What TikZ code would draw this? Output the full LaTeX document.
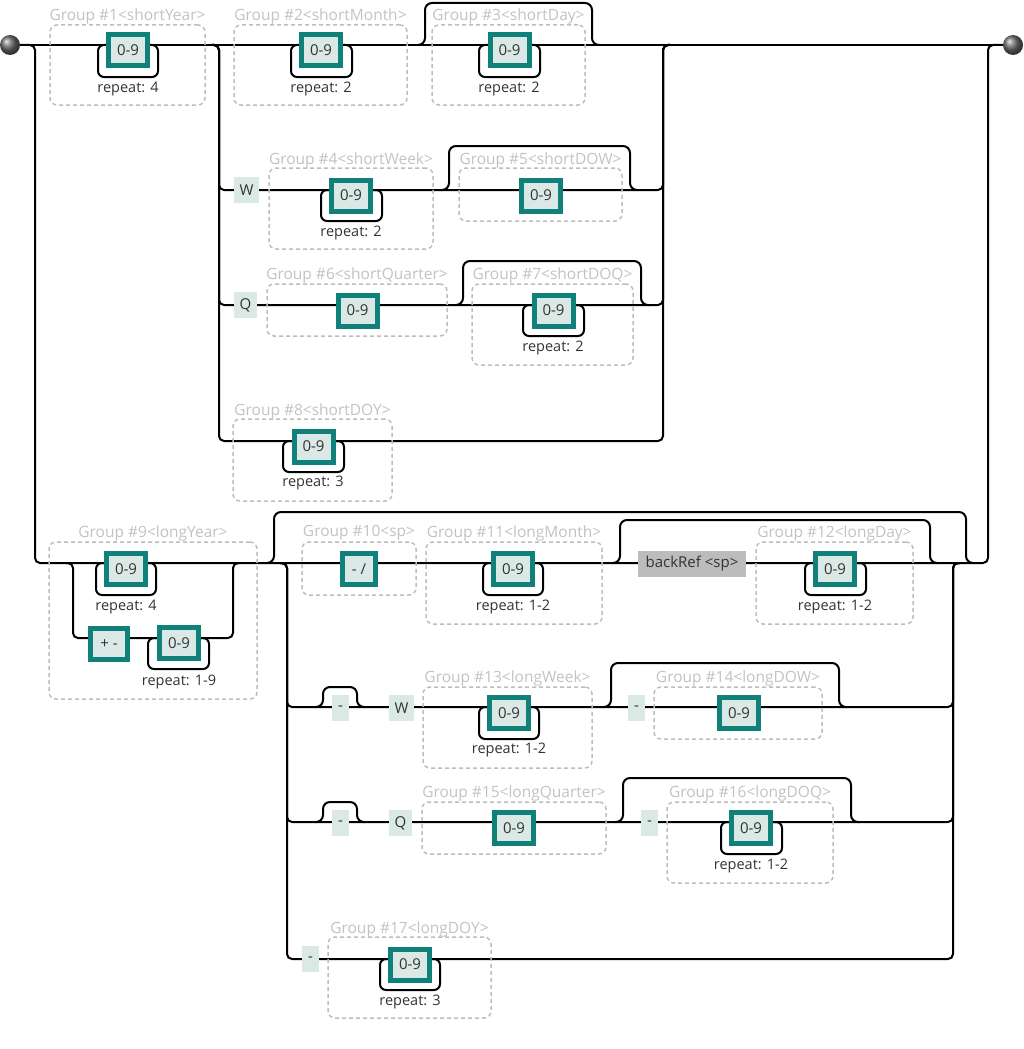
\documentclass[tikz,border=0pt]{standalone}
\usepackage{fontspec}
\setmainfont{Open Sans}
\usetikzlibrary{fit,backgrounds}
\definecolor{tealbox}{HTML}{10807A}
\definecolor{litfill}{HTML}{DAE9E5}
\definecolor{gdash}{HTML}{BDBDBD}
\definecolor{glab}{HTML}{C2C2C2}
\definecolor{txt}{HTML}{333333}
\definecolor{brfill}{HTML}{BCBCBC}
\begin{document}
\begin{tikzpicture}[x=1pt,y=-1pt,
 rail/.style={line width=2pt, black, rounded corners=5pt},
 byp/.style={line width=2pt, black, rounded corners=7pt},
 looppath/.style={line width=2pt, black, rounded corners=6pt},
 digit/.style={draw=tealbox, line width=5pt, fill=litfill, minimum width=39pt, minimum height=31pt, inner sep=0pt, text=txt, font=\fontsize{15}{17}\selectfont},
 litbox/.style={fill=litfill, minimum height=26pt, inner sep=0pt, text=txt, font=\fontsize{15}{17}\selectfont},
 refbox/.style={fill=brfill, minimum height=26pt, minimum width=108pt, inner sep=0pt, text=txt, font=\fontsize{15}{17}\selectfont},
 grp/.style={draw=gdash, line width=1.5pt, dash pattern=on 4pt off 3pt, rounded corners=7pt, inner sep=0pt},
 glabel/.style={text=glab, font=\fontsize{15.5}{17}\selectfont, inner sep=0pt},
 reptext/.style={text=txt, font=\fontsize{14.5}{17}\selectfont, inner sep=0pt},
 term/.style={circle, minimum size=20pt, inner sep=0pt, shade, ball color=gray!85!black}
]
\useasboundingbox (0,0) rectangle (1024,1049);

% terminals
\node[term] (start) at (10,45) {};
\node[term] (end) at (1013,45) {};

% group boxes
\node[grp, fit={(50,25) (205,105)}] (g1) {};
\node[grp, fit={(234,25) (407,105)}] (g2) {};
\node[grp, fit={(432,25) (585,105)}] (g3) {};
\node[grp, fit={(269,168) (433,249)}] (g4) {};
\node[grp, fit={(459,168) (622,221)}] (g5) {};
\node[grp, fit={(267,284) (447,336)}] (g6) {};
\node[grp, fit={(472,284) (633,365)}] (g7) {};
\node[grp, fit={(233,419) (392,501)}] (g8) {};
\node[grp, fit={(49,542) (257,699)}] (g9) {};
\node[grp, fit={(302,542) (416,595)}] (g10) {};
\node[grp, fit={(426,542) (602,624)}] (g11) {};
\node[grp, fit={(756,542) (913,624)}] (g12) {};
\node[grp, fit={(423,687) (592,768)}] (g13) {};
\node[grp, fit={(654,687) (822,739)}] (g14) {};
\node[grp, fit={(422,802) (606,854)}] (g15) {};
\node[grp, fit={(667,802) (833,883)}] (g16) {};
\node[grp, fit={(328,937) (491,1018)}] (g17) {};

% group labels
\node[glabel] (l1) at (127.5,16) {Group \#1<shortYear>};
\node[glabel] (l2) at (320.5,16) {Group \#2<shortMonth>};
\node[glabel] (l3) at (508.5,16) {Group \#3<shortDay>};
\node[glabel] (l4) at (351,160) {Group \#4<shortWeek>};
\node[glabel] (l5) at (540.5,160) {Group \#5<shortDOW>};
\node[glabel] (l6) at (357,275) {Group \#6<shortQuarter>};
\node[glabel] (l7) at (552.5,275) {Group \#7<shortDOQ>};
\node[glabel] (l8) at (312.5,411) {Group \#8<shortDOY>};
\node[glabel] (l9) at (153,533) {Group \#9<longYear>};
\node[glabel] (l10) at (359,533) {Group \#10<sp>};
\node[glabel] (l11) at (514,533) {Group \#11<longMonth>};
\node[glabel] (l12) at (834.5,533) {Group \#12<longDay>};
\node[glabel] (l13) at (507.5,678) {Group \#13<longWeek>};
\node[glabel] (l14) at (738,678) {Group \#14<longDOW>};
\node[glabel] (l15) at (514,793) {Group \#15<longQuarter>};
\node[glabel] (l16) at (750,793) {Group \#16<longDOQ>};
\node[glabel] (l17) at (409.5,929) {Group \#17<longDOY>};

% character-class boxes
\node[digit] (d1) at (128,50.5) {0-9};
\node[digit] (d2) at (321,50.5) {0-9};
\node[digit] (d3) at (509.5,50.5) {0-9};
\node[digit] (d4) at (351,195.5) {0-9};
\node[digit] (d5) at (541,195.5) {0-9};
\node[digit] (d6) at (357.5,310.5) {0-9};
\node[digit] (d7) at (553.5,310.5) {0-9};
\node[digit] (d8) at (313.5,446.5) {0-9};
\node[digit] (d9a) at (126,569) {0-9};
\node[digit, minimum width=37pt] (pm) at (109,644) {+ -};
\node[digit] (d9b) at (179,643) {0-9};
\node[digit, minimum width=33pt] (sl) at (359,569) {- /};
\node[digit] (d11) at (513,569) {0-9};
\node[digit] (d12) at (835,569) {0-9};
\node[digit] (d13) at (509,713) {0-9};
\node[digit] (d14) at (739,713) {0-9};
\node[digit] (d15) at (514,828) {0-9};
\node[digit] (d16) at (751,828) {0-9};
\node[digit] (d17) at (410,964.5) {0-9};

% literals
\node[litbox, minimum width=25pt] (w1) at (246.5,190) {W};
\node[litbox, minimum width=23pt] (q1) at (245.5,305) {Q};
\node[litbox, minimum width=17pt] (m1) at (340.5,708) {-};
\node[litbox, minimum width=25pt] (w2) at (401.5,708) {W};
\node[litbox, minimum width=17pt] (m2) at (636.5,708) {-};
\node[litbox, minimum width=17pt] (m3) at (340.5,823) {-};
\node[litbox, minimum width=23pt] (q2) at (400.5,823) {Q};
\node[litbox, minimum width=17pt] (m4) at (649.5,823) {-};
\node[litbox, minimum width=17pt] (m5) at (310.5,959) {-};
\node[refbox] (br) at (692,564) {backRef <sp>};

% repeat labels
\node[reptext] (r1) at (128,89) {repeat: 4};
\node[reptext] (r2) at (321,89) {repeat: 2};
\node[reptext] (r3) at (509,89) {repeat: 2};
\node[reptext] (r4) at (351,233) {repeat: 2};
\node[reptext] (r7) at (553,348) {repeat: 2};
\node[reptext] (r8) at (313,483) {repeat: 3};
\node[reptext] (r9a) at (126,607) {repeat: 4};
\node[reptext] (r9b) at (179,682) {repeat: 1-9};
\node[reptext] (r11) at (513,607) {repeat: 1-2};
\node[reptext] (r12) at (835,607) {repeat: 1-2};
\node[reptext] (r13) at (509,750) {repeat: 1-2};
\node[reptext] (r16) at (751,866) {repeat: 1-2};
\node[reptext] (r17) at (410,1002) {repeat: 3};

\begin{pgfonlayer}{background}
% main line
\draw[rail] (start) -- (end);
% top-level alternation: long branch
\draw[rail] (start.east) -- (35,45) -- (35,563) -- (988,563) -- (988,45) -- (end.west);
% short branch inner alternation
\foreach \yy in {190,305,441}
  \draw[rail] (212,45) -- (219,45) -- (219,\yy) -- (663,\yy) -- (663,45) -- (670,45);
% group 9 alternation
\draw[rail] (66,563) -- (73,563) -- (73,638) -- (233,638) -- (233,563) -- (240,563);
% long inner alternation
\foreach \yy in {707,822,959}
  \draw[rail] (280,563) -- (287,563) -- (287,\yy) -- (953,\yy) -- (953,563) -- (960,563);
% optional bypasses
\draw[byp] (417,45) -- (425,45) -- (425,3) -- (592,3) -- (592,45) -- (600,45);
\draw[byp] (441,190) -- (449,190) -- (449,146) -- (630,146) -- (630,190) -- (638,190);
\draw[byp] (455,305) -- (463,305) -- (463,261) -- (641,261) -- (641,305) -- (649,305);
\draw[byp] (266,563) -- (274,563) -- (274,512) -- (966,512) -- (966,563) -- (974,563);
\draw[byp] (612,563) -- (620,563) -- (620,520) -- (930,520) -- (930,563) -- (938,563);
\draw[byp] (315,707) -- (323,707) -- (323,687) -- (357,687) -- (357,707) -- (365,707);
\draw[byp] (603,707) -- (611,707) -- (611,663) -- (839,663) -- (839,707) -- (847,707);
\draw[byp] (315,822) -- (323,822) -- (323,802) -- (357,802) -- (357,822) -- (365,822);
\draw[byp] (615,822) -- (623,822) -- (623,778) -- (851,778) -- (851,822) -- (859,822);
% repeat loops
\draw[looppath] (98,45) rectangle (158,77);
\draw[looppath] (291,45) rectangle (352,77);
\draw[looppath] (479,45) rectangle (540,77);
\draw[looppath] (321,190) rectangle (382,221);
\draw[looppath] (523,305) rectangle (584,336);
\draw[looppath] (283,441) rectangle (344,472);
\draw[looppath] (96,563) rectangle (156,595);
\draw[looppath] (148,638) rectangle (209,669);
\draw[looppath] (483,563) rectangle (543,595);
\draw[looppath] (805,563) rectangle (866,595);
\draw[looppath] (479,707) rectangle (539,739);
\draw[looppath] (721,822) rectangle (782,854);
\draw[looppath] (380,959) rectangle (440,990);
\end{pgfonlayer}
\end{tikzpicture}
\end{document}
